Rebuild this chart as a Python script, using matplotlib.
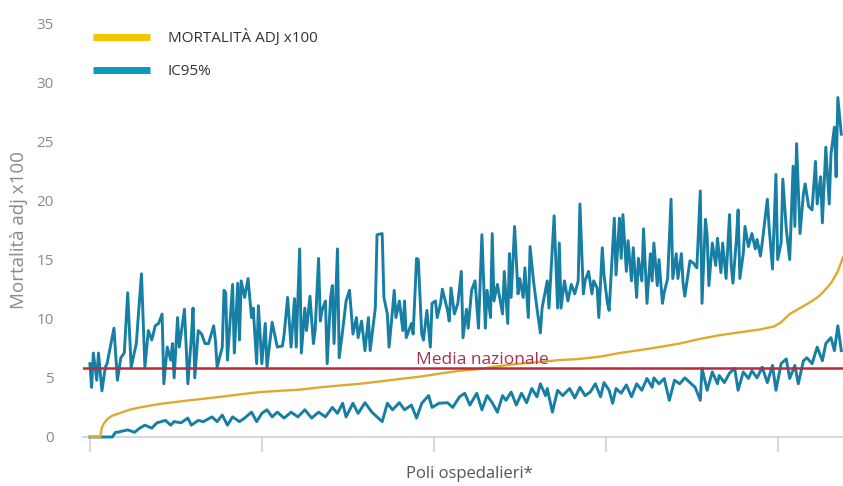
import matplotlib
matplotlib.use("Agg")
import matplotlib.pyplot as plt
from matplotlib.lines import Line2D

# ---------------- data (hospital rank -> value, mortality adj x100) ----------------
upper_rank = [0, 1, 2, 4, 5, 7, 9, 10, 14, 16, 18, 20, 22, 24, 27, 30, 32, 34, 36, 38,
              40, 42, 43, 45, 47, 48, 49, 51, 52, 55, 57, 59, 60, 61, 63, 65, 67, 69, 72, 73,
              74, 77, 78, 79, 80, 83, 84, 86, 87, 88, 90, 92, 94, 95, 97, 98, 100, 102, 103, 106,
              109, 112, 113, 115, 117, 119, 120, 122, 123, 125, 126, 128, 130, 131, 133, 134, 135, 137, 138, 140,
              141, 142, 144, 145, 147, 149, 151, 153, 155, 156, 158, 160, 162, 163, 166, 167, 170, 171, 173, 174,
              176, 177, 178, 180, 182, 183, 184, 187, 188, 190, 191, 193, 194, 196, 198, 199, 201, 202, 204, 205,
              208, 209, 210, 212, 214, 216, 217, 219, 220, 222, 224, 226, 228, 230, 231, 233, 234, 235, 237, 240,
              241, 243, 244, 245, 247, 249, 250, 252, 253, 255, 256, 258, 260, 262, 263, 266, 267, 270, 272, 273,
              274, 276, 278, 280, 282, 284, 285, 287, 288, 290, 292, 293, 295, 296, 298, 299, 301, 302, 305, 306,
              308, 309, 310, 312, 313, 315, 316, 318, 319, 321, 322, 324, 326, 327, 328, 330, 331, 333, 334, 336,
              338, 339, 341, 342, 344, 345, 346, 348, 349, 351, 353, 355, 356, 358, 359, 360, 362, 364, 365, 367,
              368, 370, 372, 373, 374, 376, 377, 378, 380, 381, 383, 385, 387, 388, 390, 391, 394, 395, 397, 399,
              400, 402, 403, 405, 407, 409, 410, 411, 413, 415, 416, 418, 420, 422, 423, 425, 426, 428, 430, 431,
              433, 434, 435, 437]
upper_val = [6.2, 4.2, 7.1, 4.8, 7.1, 3.9, 5.9, 6.2, 9.2, 4.8, 6.7, 7.1, 12.2, 5.9, 7.9, 13.8, 5.9, 9.0, 8.2, 9.4,
             9.6, 10.4, 4.5, 7.6, 6.5, 7.9, 5.0, 10.1, 7.6, 10.8, 4.5, 8.4, 10.9, 5.0, 9.0, 8.7, 7.9, 7.9, 9.4, 8.2,
             5.9, 7.6, 12.4, 12.2, 6.5, 12.9, 7.1, 13.0, 8.2, 13.2, 11.8, 13.4, 10.1, 10.9, 6.2, 11.1, 6.2, 9.6, 5.9, 9.7,
             7.6, 7.7, 8.7, 11.8, 7.6, 11.7, 7.6, 15.9, 7.1, 10.9, 9.0, 11.9, 7.9, 9.0, 15.1, 9.8, 10.7, 11.5, 6.2, 11.8,
             12.8, 7.9, 15.9, 6.7, 9.0, 11.5, 12.4, 8.7, 10.1, 8.4, 9.8, 7.3, 10.1, 7.3, 10.9, 17.1, 17.2, 11.8, 10.4, 7.6,
             10.7, 12.4, 10.1, 11.5, 9.0, 11.5, 8.4, 9.6, 8.7, 15.1, 15.0, 8.7, 8.2, 10.7, 7.6, 11.3, 11.5, 10.1, 11.3, 12.5,
             10.7, 9.8, 12.6, 10.4, 11.3, 14.0, 8.4, 10.8, 9.2, 12.4, 13.2, 9.2, 17.1, 9.2, 12.4, 10.1, 17.2, 11.5, 12.9, 10.4,
             14.0, 9.6, 15.5, 11.8, 17.8, 12.1, 13.4, 11.8, 14.3, 10.1, 16.1, 13.2, 10.9, 8.8, 10.9, 13.2, 10.9, 18.7, 10.9, 16.4,
             10.9, 13.2, 11.5, 12.9, 12.1, 13.2, 19.7, 12.1, 13.2, 14.0, 12.1, 13.2, 12.6, 10.1, 16.0, 13.7, 11.3, 10.7, 18.5, 13.7,
             18.5, 15.1, 18.8, 14.0, 16.6, 13.2, 16.0, 11.8, 15.1, 13.2, 17.6, 11.3, 15.5, 13.2, 16.4, 12.8, 15.0, 11.3, 12.2, 13.4,
             20.1, 13.4, 15.5, 13.4, 15.5, 13.0, 11.9, 13.9, 14.9, 14.7, 14.3, 20.8, 11.3, 18.4, 17.0, 12.8, 16.4, 14.5, 16.8, 13.9,
             16.4, 13.4, 18.8, 14.5, 13.0, 16.7, 19.2, 13.4, 15.5, 17.8, 16.1, 17.2, 15.9, 16.7, 15.3, 16.4, 20.1, 17.8, 14.2, 22.2,
             15.0, 16.4, 21.8, 17.6, 15.0, 22.9, 17.8, 24.8, 17.2, 20.6, 21.4, 19.5, 19.2, 23.3, 19.7, 22.0, 18.1, 24.5, 19.7, 23.9,
             26.2, 22.0, 28.7, 25.6]

lower_rank = [0, 13, 15, 16, 22, 26, 29, 32, 36, 39, 44, 47, 49, 53, 57, 59, 63, 66, 71, 74,
              77, 80, 83, 87, 90, 94, 97, 100, 103, 106, 109, 113, 117, 121, 125, 129, 133, 137, 141, 144,
              147, 149, 153, 156, 160, 164, 167, 170, 173, 176, 180, 183, 187, 190, 193, 197, 199, 203, 208, 211,
              215, 218, 221, 225, 228, 231, 234, 237, 240, 242, 245, 248, 251, 254, 257, 260, 262, 265, 266, 269,
              272, 275, 279, 282, 285, 288, 291, 294, 297, 299, 302, 304, 306, 309, 312, 315, 318, 321, 324, 327,
              328, 331, 334, 337, 340, 343, 346, 349, 352, 355, 356, 359, 362, 365, 366, 369, 372, 375, 377, 380,
              383, 385, 388, 391, 394, 397, 399, 402, 405, 407, 410, 412, 415, 417, 420, 423, 426, 428, 431, 433,
              435, 437]
lower_val = [0.0, 0.0, 0.4, 0.4, 0.6, 0.4, 0.75, 1.0, 0.75, 1.2, 1.4, 1.0, 1.3, 1.2, 1.6, 1.0, 1.4, 1.3, 1.7, 1.3,
             1.85, 1.0, 1.7, 1.3, 1.6, 2.1, 1.3, 2.0, 2.3, 1.7, 2.1, 1.6, 2.1, 1.7, 2.3, 1.6, 2.1, 1.7, 2.5, 2.0,
             2.85, 1.7, 2.85, 2.0, 2.9, 2.1, 1.7, 1.3, 2.85, 2.3, 2.9, 2.3, 2.7, 1.6, 2.85, 3.5, 2.5, 2.85, 2.9, 2.5,
             3.4, 3.7, 2.7, 3.7, 2.3, 3.5, 2.9, 2.1, 3.5, 3.1, 3.8, 2.7, 3.7, 2.9, 4.1, 3.4, 4.5, 3.5, 4.1, 2.1,
             3.95, 3.5, 4.1, 3.3, 4.2, 3.5, 3.8, 4.5, 3.4, 4.6, 3.95, 2.85, 4.1, 3.7, 4.4, 3.4, 4.5, 3.95, 4.95, 4.2,
             5.0, 4.5, 4.95, 3.1, 4.8, 4.5, 5.0, 4.6, 4.2, 3.1, 5.8, 3.95, 5.5, 4.5, 5.2, 4.6, 5.4, 5.8, 3.95, 5.5,
             4.95, 5.6, 5.0, 5.9, 4.6, 6.05, 3.95, 6.2, 6.6, 4.95, 6.05, 4.5, 6.45, 6.7, 6.2, 7.6, 6.45, 7.9, 8.4, 7.3,
             9.4, 7.3]

mort_rank = [0, 6, 7, 8, 10, 13, 17, 23, 29, 41, 52, 64, 76, 87, 99, 110, 122, 134, 145, 157,
             169, 180, 192, 203, 215, 227, 238, 250, 262, 273, 285, 297, 308, 320, 331, 343, 355, 366, 378, 390,
             398, 402, 407, 413, 419, 424, 428, 431, 435, 438]
mort_val = [0.0, 0.0, 0.8, 1.1, 1.5, 1.8, 2.0, 2.3, 2.5, 2.8, 3.0, 3.2, 3.4, 3.6, 3.8, 3.9, 4.0, 4.2, 4.35, 4.5,
            4.7, 4.9, 5.1, 5.35, 5.6, 5.75, 6.0, 6.2, 6.35, 6.5, 6.6, 6.8, 7.1, 7.35, 7.6, 7.9, 8.3, 8.6, 8.85, 9.1,
            9.35, 9.7, 10.4, 10.9, 11.4, 11.9, 12.5, 13.0, 14.0, 15.2]

media_nazionale = 5.8
y_ticks = [0, 5, 10, 15, 20, 25, 30, 35]
x_ticks = [0, 100, 200, 300, 400]

# ---------------- style ----------------
BLUE = "#177fa4"
BLUE_LEG = "#0a9bbb"
GOLD = "#dfa92e"
GOLD_LEG = "#f4c500"
RED = "#bb2a3d"
GRAY = "#8a8a8a"
AXC = "#c8d2de"

plt.rcParams['font.family'] = ['Open Sans', 'DejaVu Sans']

fig = plt.figure(figsize=(8.43, 4.86), dpi=100)
ax = fig.add_axes([83 / 843, 1 - 437 / 486, 760 / 843, 414 / 486])

ax.plot(upper_rank, upper_val, color=BLUE, lw=2.1, solid_joinstyle='round', clip_on=False, zorder=3)
ax.plot(lower_rank, lower_val, color=BLUE, lw=2.1, solid_joinstyle='round', clip_on=False, zorder=3)
ax.plot(mort_rank, mort_val, color=GOLD, lw=1.7, clip_on=False, zorder=4)
ax.axhline(media_nazionale, color=RED, lw=1.8, zorder=5)
ax.text(228.5, media_nazionale + 0.35, "Media nazionale", color="#a8324c", fontsize=12.5,
        ha='center', va='baseline', zorder=6)

ax.set_xlim(-4, 438)
ax.set_ylim(0, 35)
ax.set_yticks(y_ticks)
ax.set_xticks(x_ticks)
ax.set_xticklabels([])
ax.tick_params(axis='y', length=0, pad=21, labelsize=11, labelcolor=GRAY)
ax.tick_params(axis='x', length=11, width=1.2, color=AXC, direction='out')
for s in ['top', 'right', 'left']:
    ax.spines[s].set_visible(False)
ax.spines['bottom'].set_color(AXC)
ax.spines['bottom'].set_linewidth(1.2)
ax.spines['bottom'].set_zorder(1)

ax.set_ylabel("Mortalità adj x100", fontsize=13.5, color=GRAY, labelpad=6)
fig.text(469 / 843, 1 - 466 / 486, "Poli ospedalieri*", fontsize=12, color="#555555",
         ha='center', va='top')

handles = [Line2D([], [], color=GOLD_LEG, lw=5, solid_capstyle='butt'),
           Line2D([], [], color=BLUE_LEG, lw=5, solid_capstyle='butt')]
fig.legend(handles, ["MORTALITÀ ADJ x100", "IC95%"], loc='upper left',
           bbox_to_anchor=(87 / 843, 1 - 23 / 486), frameon=False, fontsize=11,
           borderaxespad=0, handlelength=3.73, handletextpad=1.15, labelspacing=1.2,
           labelcolor="#333333")

fig.savefig("out.png", dpi=100)
